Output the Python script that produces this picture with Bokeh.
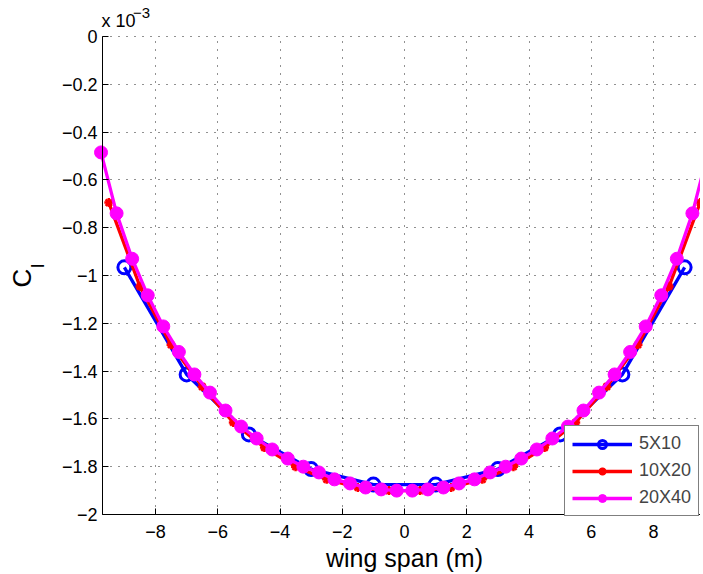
from bokeh.plotting import figure
from bokeh.models import Range1d, FixedTicker, Label, Legend, LegendItem, Grid
from bokeh.embed import file_html
from bokeh.resources import INLINE
import math

# ---- data (Cl in units of 1e-3) ----
x_5x10 = [-9, -7, -5, -3, -1, 1, 3, 5, 7, 9]
cl_5x10 = [-0.966, -1.414, -1.665, -1.810, -1.875, -1.875, -1.810, -1.665, -1.414, -0.966]

x_10x20 = [-9.5, -8.5, -7.5, -6.5, -5.5, -4.5, -3.5, -2.5, -1.5, -0.5,
           0.5, 1.5, 2.5, 3.5, 4.5, 5.5, 6.5, 7.5, 8.5, 9.5]
cl_10x20 = [-0.695, -1.046, -1.290, -1.465, -1.615, -1.720, -1.800, -1.853, -1.887, -1.900,
            -1.900, -1.887, -1.853, -1.800, -1.720, -1.615, -1.465, -1.290, -1.046, -0.695]

x_20x40 = [-9.75, -9.25, -8.75, -8.25, -7.75, -7.25, -6.75, -6.25, -5.75, -5.25,
           -4.75, -4.25, -3.75, -3.25, -2.75, -2.25, -1.75, -1.25, -0.75, -0.25,
           0.25, 0.75, 1.25, 1.75, 2.25, 2.75, 3.25, 3.75, 4.25, 4.75,
           5.25, 5.75, 6.25, 6.75, 7.25, 7.75, 8.25, 8.75, 9.25, 9.75]
cl_20x40 = [-0.485, -0.740, -0.930, -1.083, -1.213, -1.320, -1.414, -1.490, -1.565, -1.632,
            -1.682, -1.728, -1.766, -1.800, -1.824, -1.853, -1.870, -1.887, -1.895, -1.900,
            -1.900, -1.895, -1.887, -1.870, -1.853, -1.824, -1.800, -1.766, -1.728, -1.682,
            -1.632, -1.565, -1.490, -1.414, -1.320, -1.213, -1.083, -0.930, -0.740, -0.485]

x_ticks = [-8, -6, -4, -2, 0, 2, 4, 6, 8]
x_tick_labels = ["\u22128", "\u22126", "\u22124", "\u22122", "0", "2", "4", "6", "8"]
y_ticks = [0, -0.2, -0.4, -0.6, -0.8, -1, -1.2, -1.4, -1.6, -1.8, -2]
y_tick_labels = ["0", "\u22120.2", "\u22120.4", "\u22120.6", "\u22120.8", "\u22121",
                 "\u22121.2", "\u22121.4", "\u22121.6", "\u22121.8", "\u22122"]
series_names = ["5X10", "10X20", "20X40"]
x_limits = (-9.7, 9.7)
y_limits = (-2, 0)

FONT = "Liberation Sans"

# frame covers the whole canvas; the axes sit at fixed data locations
p = figure(width=700, height=572, output_backend="svg", toolbar_location=None,
           x_range=Range1d(-12.98, 9.51), y_range=Range1d(-2.2427, 0.1506),
           min_border_left=0, min_border_right=0, min_border_top=0, min_border_bottom=0)
p.outline_line_color = None
p.background_fill_color = "white"
p.border_fill_color = "white"

p.xaxis.fixed_location = y_limits[0]
p.yaxis.fixed_location = x_limits[0]
p.xaxis.bounds = x_limits
p.yaxis.bounds = y_limits

for ax, ticks, labels in ((p.xaxis[0], x_ticks, x_tick_labels), (p.yaxis[0], y_ticks, y_tick_labels)):
    ax.ticker = FixedTicker(ticks=ticks)
    ax.major_label_overrides = {t: l for t, l in zip(ticks, labels)}
    ax.major_tick_in = 6
    ax.major_tick_out = 0
    ax.minor_tick_in = 0
    ax.minor_tick_out = 0
    ax.axis_line_color = "black"
    ax.major_tick_line_color = "black"
    ax.major_label_text_font = FONT
    ax.major_label_text_font_size = "18px"
    ax.major_label_text_color = "black"
p.xaxis.major_label_standoff = 11
p.yaxis.major_label_standoff = 5

p.xgrid.ticker = FixedTicker(ticks=x_ticks)
p.ygrid.ticker = FixedTicker(ticks=y_ticks)
p.xgrid.bounds = x_limits
p.ygrid.bounds = y_limits
has_cross = "cross_bounds" in Grid.properties()
if has_cross:
    p.xgrid.cross_bounds = y_limits
    p.ygrid.cross_bounds = x_limits
for g in (p.xgrid[0], p.ygrid[0]):
    g.grid_line_color = "#222222"
    g.grid_line_dash = "1 7"
    g.grid_line_width = 1
if not has_cross:
    for g in (p.xgrid[0], p.ygrid[0]):
        g.visible = False
    p.segment(x0=x_ticks, y0=[y_limits[0]] * len(x_ticks), x1=x_ticks,
              y1=[y_limits[1]] * len(x_ticks), line_color="#222222", line_dash="1 7", line_width=1)
    p.segment(x0=[x_limits[0]] * len(y_ticks), y0=y_ticks, x1=[x_limits[1]] * len(y_ticks),
              y1=y_ticks, line_color="#222222", line_dash="1 7", line_width=1)

l1 = p.line(x_5x10, cl_5x10, line_color="#0000FF", line_width=3.3)
s1 = p.scatter(x_5x10, cl_5x10, marker="circle", size=13, line_color="#0000FF",
               line_width=3, fill_color=None)
l2 = p.line(x_10x20, cl_10x20, line_color="#FF0000", line_width=3.3)
s2 = p.scatter(x_10x20, cl_10x20, marker="asterisk", size=9, line_color="#FF0000",
               line_width=2.5)
l3 = p.line(x_20x40, cl_20x40, line_color="#FF00FF", line_width=3.3)
s3 = p.scatter(x_20x40, cl_20x40, marker="circle", size=13, line_color="#FF00FF",
               fill_color="#FF00FF")

legend = Legend(items=[LegendItem(label=series_names[0], renderers=[l1, s1]),
                       LegendItem(label=series_names[1], renderers=[l2, s2]),
                       LegendItem(label=series_names[2], renderers=[l3, s3])],
                location=(564, 56), orientation="vertical",
                label_text_font=FONT, label_text_font_size="18px",
                glyph_width=60, glyph_height=20, label_height=20, spacing=6,
                padding=7, label_standoff=7, margin=0,
                border_line_color="black", border_line_width=1,
                background_fill_color="white", background_fill_alpha=1)
p.add_layout(legend)

# axis labels and exponent
p.add_layout(Label(x=0, y=-2.182, text="wing span (m)", text_align="center",
                   text_baseline="alphabetic", text_font=FONT, text_font_size="25px",
                   text_color="black"))
p.add_layout(Label(x=-12.30, y=-1.0502, text="C", angle=math.pi / 2, text_align="left",
                   text_baseline="alphabetic", text_font=FONT, text_font_size="26px",
                   text_color="black"))
p.add_layout(Label(x=-11.80, y=-0.9686, text="l", angle=math.pi / 2, text_align="left",
                   text_baseline="alphabetic", text_font=FONT, text_font_size="19px",
                   text_color="black"))
p.add_layout(Label(x=-9.735, y=0.0649, text="x 10", text_align="left",
                   text_baseline="alphabetic", text_font=FONT, text_font_size="18px",
                   text_color="black"))
p.add_layout(Label(x=-8.72, y=0.0992, text="\u22123", text_align="left",
                   text_baseline="alphabetic", text_font=FONT, text_font_size="15px",
                   text_color="black"))

open("out.html", "w").write(file_html(p, INLINE))
